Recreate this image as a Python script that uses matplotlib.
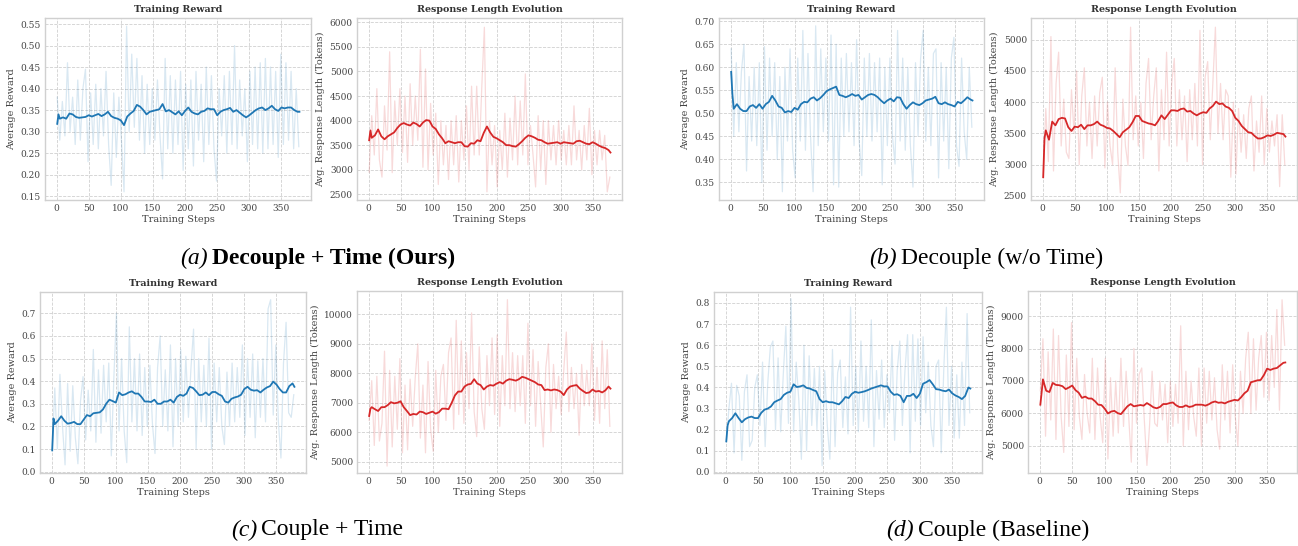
import matplotlib
matplotlib.use('Agg')
import matplotlib.pyplot as plt
import numpy as np
from matplotlib.ticker import MultipleLocator

# smoothed curves are read every 5 steps, raw curves every 4 steps (1, 5, 9, ...)
smooth_steps = [1, 3] + list(range(5, 380, 5)) + [378]

# ---------- (a) Decouple + Time (Ours) ----------
a_reward_smooth = [0.318, 0.34, 0.33, 0.333, 0.33, 0.342, 0.34, 0.334, 0.332, 0.333,
                   0.334, 0.338, 0.335, 0.338, 0.341, 0.336, 0.34, 0.346, 0.336, 0.332,
                   0.33, 0.326, 0.315, 0.335, 0.342, 0.348, 0.362, 0.358, 0.35, 0.34,
                   0.346, 0.348, 0.35, 0.352, 0.364, 0.347, 0.35, 0.345, 0.34, 0.347,
                   0.338, 0.348, 0.356, 0.346, 0.342, 0.34, 0.346, 0.348, 0.354, 0.352,
                   0.352, 0.338, 0.346, 0.35, 0.352, 0.355, 0.346, 0.35, 0.344, 0.338,
                   0.333, 0.338, 0.344, 0.35, 0.354, 0.356, 0.35, 0.354, 0.36, 0.352,
                   0.348, 0.356, 0.354, 0.356, 0.356, 0.35, 0.346, 0.346]
a_reward_raw = [0.38, 0.28, 0.37, 0.29, 0.46, 0.30, 0.38, 0.27, 0.42, 0.28,
                0.40, 0.445, 0.23, 0.39, 0.27, 0.41, 0.26, 0.40, 0.29, 0.44,
                0.27, 0.175, 0.39, 0.24, 0.38, 0.28, 0.16, 0.545, 0.30, 0.48,
                0.31, 0.47, 0.28, 0.43, 0.25, 0.41, 0.27, 0.40, 0.28, 0.42,
                0.29, 0.19, 0.47, 0.26, 0.43, 0.25, 0.42, 0.27, 0.44, 0.21,
                0.41, 0.26, 0.42, 0.22, 0.44, 0.28, 0.41, 0.23, 0.45, 0.27,
                0.43, 0.26, 0.185, 0.40, 0.29, 0.43, 0.25, 0.44, 0.27, 0.50,
                0.26, 0.42, 0.29, 0.40, 0.23, 0.44, 0.27, 0.45, 0.26, 0.46,
                0.25, 0.47, 0.26, 0.45, 0.27, 0.44, 0.24, 0.48, 0.27, 0.46,
                0.28, 0.44, 0.26, 0.40, 0.265]
a_len_smooth = [3600, 3800, 3650, 3700, 3820, 3680, 3620, 3680, 3720, 3760,
                3850, 3920, 3950, 3920, 3900, 3960, 3930, 3880, 3960, 4010,
                4000, 3880, 3830, 3720, 3640, 3540, 3580, 3560, 3540, 3560,
                3560, 3480, 3470, 3540, 3530, 3600, 3580, 3750, 3880, 3760,
                3670, 3640, 3600, 3560, 3500, 3500, 3480, 3470, 3520, 3580,
                3650, 3700, 3680, 3650, 3610, 3600, 3560, 3530, 3540, 3550,
                3560, 3530, 3560, 3550, 3540, 3530, 3580, 3590, 3560, 3530,
                3520, 3560, 3530, 3490, 3460, 3440, 3400, 3350]
a_len_raw = [2950, 4100, 3300, 4650, 3200, 2850, 4300, 3400, 5400, 2940,
             4400, 3500, 4650, 3350, 4500, 3150, 4750, 3500, 4500, 3600,
             5450, 3050, 5050, 3000, 4350, 3300, 4150, 2700, 4000, 3100,
             3900, 2800, 4000, 3100, 4100, 2750, 4000, 3200, 4300, 3000,
             4700, 3300, 4700, 3300, 4700, 5900, 2550, 4000, 3100, 3900,
             2650, 3800, 3000, 4150, 2850, 4050, 3200, 4500, 3100, 4400,
             3300, 4950, 3100, 3900, 3300, 2650, 4100, 3000, 4000, 2700,
             4000, 3200, 3900, 3100, 4000, 3200, 3800, 3100, 3900, 3100,
             4300, 3200, 3800, 3000, 3900, 3200, 4250, 2900, 3800, 3100,
             3800, 3200, 3700, 2550, 2850]

# ---------- (b) Decouple (w/o Time) ----------
b_reward_smooth = [0.59, 0.54, 0.51, 0.52, 0.51, 0.505, 0.505, 0.515, 0.518, 0.512,
                   0.52, 0.51, 0.52, 0.525, 0.538, 0.528, 0.515, 0.512, 0.502, 0.505,
                   0.503, 0.512, 0.508, 0.52, 0.525, 0.524, 0.532, 0.535, 0.528, 0.533,
                   0.54, 0.548, 0.552, 0.555, 0.558, 0.54, 0.538, 0.535, 0.538, 0.542,
                   0.538, 0.54, 0.53, 0.535, 0.54, 0.542, 0.54, 0.535, 0.528, 0.522,
                   0.528, 0.532, 0.526, 0.535, 0.534, 0.52, 0.51, 0.518, 0.524, 0.52,
                   0.518, 0.522, 0.528, 0.53, 0.532, 0.536, 0.522, 0.52, 0.524, 0.52,
                   0.518, 0.515, 0.525, 0.522, 0.528, 0.535, 0.53, 0.528]
b_reward_raw = [0.64, 0.45, 0.61, 0.46, 0.59, 0.65, 0.375, 0.58, 0.44, 0.60,
                0.43, 0.61, 0.35, 0.645, 0.42, 0.62, 0.45, 0.61, 0.40, 0.58,
                0.33, 0.60, 0.44, 0.64, 0.42, 0.36, 0.62, 0.44, 0.68, 0.42,
                0.63, 0.45, 0.33, 0.69, 0.43, 0.64, 0.46, 0.62, 0.44, 0.67,
                0.345, 0.65, 0.34, 0.62, 0.45, 0.63, 0.46, 0.61, 0.43, 0.66,
                0.44, 0.365, 0.62, 0.45, 0.63, 0.44, 0.61, 0.46, 0.62, 0.345,
                0.60, 0.43, 0.62, 0.45, 0.39, 0.68, 0.44, 0.62, 0.42, 0.60,
                0.43, 0.34, 0.61, 0.45, 0.62, 0.68, 0.44, 0.60, 0.43, 0.63,
                0.64, 0.36, 0.61, 0.44, 0.60, 0.38, 0.62, 0.665, 0.43, 0.385,
                0.62, 0.46, 0.40, 0.60, 0.47]
b_len_smooth = [2800, 3420, 3550, 3400, 3690, 3630, 3730, 3750, 3740, 3600,
                3540, 3610, 3600, 3640, 3570, 3630, 3630, 3650, 3690, 3640,
                3620, 3590, 3580, 3540, 3490, 3440, 3520, 3560, 3600, 3680,
                3780, 3780, 3700, 3680, 3660, 3650, 3630, 3700, 3790, 3730,
                3800, 3870, 3870, 3860, 3890, 3900, 3850, 3860, 3820, 3790,
                3820, 3840, 3830, 3900, 3940, 4010, 3970, 3980, 3930, 3910,
                3860, 3750, 3700, 3620, 3570, 3520, 3510, 3460, 3420, 3420,
                3440, 3470, 3460, 3480, 3510, 3500, 3490, 3450]
b_len_raw = [2800, 3900, 3050, 5050, 2900, 4300, 4800, 3300, 4050, 3200,
             3100, 4200, 3500, 4500, 3000, 4100, 4550, 3300, 4000, 3100,
             4100, 3300, 4150, 4400, 2950, 4000, 3300, 3000, 4550, 3200,
             2550, 4050, 3300, 2990, 5200, 3400, 4100, 3300, 4000, 3100,
             4300, 4700, 3400, 4100, 4550, 2900, 4200, 3400, 4800, 3300,
             4300, 4700, 3300, 4200, 3400, 4100, 3050, 4200, 3400, 4300,
             3300, 5150, 3000, 4400, 4650, 3400, 4300, 5200, 3500, 4300,
             3400, 4200, 4100, 2800, 4000, 2850, 3900, 3200, 3800, 3100,
             3900, 4100, 2900, 3700, 3200, 4100, 3000, 3900, 3200, 3700,
             3300, 3800, 2650, 3800, 3000]

# ---------- (c) Couple + Time ----------
c_reward_smooth = [0.094, 0.235, 0.21, 0.225, 0.245, 0.225, 0.212, 0.215, 0.22, 0.21,
                   0.21, 0.23, 0.25, 0.245, 0.258, 0.26, 0.262, 0.275, 0.30, 0.318,
                   0.312, 0.305, 0.35, 0.338, 0.342, 0.35, 0.355, 0.345, 0.345, 0.33,
                   0.31, 0.31, 0.308, 0.318, 0.30, 0.30, 0.31, 0.31, 0.318, 0.305,
                   0.33, 0.34, 0.335, 0.345, 0.375, 0.37, 0.355, 0.338, 0.34, 0.35,
                   0.338, 0.352, 0.352, 0.342, 0.335, 0.31, 0.305, 0.322, 0.328, 0.332,
                   0.34, 0.365, 0.375, 0.362, 0.358, 0.36, 0.35, 0.362, 0.372, 0.378,
                   0.398, 0.385, 0.365, 0.35, 0.35, 0.378, 0.39, 0.375]
c_reward_raw = [0.10, 0.37, 0.10, 0.43, 0.20, 0.03, 0.39, 0.09, 0.38, 0.15,
                0.035, 0.31, 0.42, 0.14, 0.36, 0.18, 0.54, 0.13, 0.45, 0.17,
                0.47, 0.22, 0.48, 0.07, 0.42, 0.70, 0.18, 0.50, 0.18, 0.04,
                0.64, 0.22, 0.50, 0.18, 0.52, 0.16, 0.46, 0.20, 0.47, 0.21,
                0.08, 0.46, 0.60, 0.20, 0.45, 0.18, 0.56, 0.11, 0.50, 0.20,
                0.54, 0.22, 0.51, 0.24, 0.46, 0.63, 0.10, 0.50, 0.22, 0.47,
                0.20, 0.59, 0.10, 0.48, 0.22, 0.46, 0.20, 0.12, 0.44, 0.20,
                0.48, 0.22, 0.46, 0.24, 0.56, 0.16, 0.50, 0.24, 0.52, 0.15,
                0.49, 0.24, 0.50, 0.22, 0.72, 0.76, 0.25, 0.56, 0.22, 0.06,
                0.48, 0.66, 0.26, 0.24, 0.34]
c_len_smooth = [6550, 6800, 6850, 6780, 6720, 6850, 6850, 6920, 7020, 6980,
                7000, 7050, 6850, 6720, 6580, 6620, 6600, 6700, 6680, 6620,
                6660, 6700, 6630, 6680, 6800, 6800, 6780, 7000, 7250, 7380,
                7380, 7550, 7620, 7640, 7800, 7650, 7600, 7450, 7550, 7600,
                7580, 7650, 7700, 7650, 7750, 7800, 7780, 7750, 7800, 7880,
                7850, 7800, 7750, 7700, 7620, 7600, 7430, 7450, 7420, 7450,
                7430, 7380, 7260, 7450, 7550, 7580, 7600, 7480, 7400, 7330,
                7350, 7450, 7380, 7400, 7350, 7420, 7550, 7480]
c_len_raw = [6400, 7750, 5550, 7900, 5700, 6300, 8750, 4850, 8100, 5500,
             7900, 6100, 8500, 5300, 7600, 5400, 7800, 6200, 7850, 9000,
             5800, 7600, 5300, 8400, 6100, 5350, 8100, 6000, 7900, 8300,
             6400, 8700, 9200, 6100, 9800, 6600, 9100, 6300, 8700, 6800,
             10050, 6700, 5850, 8900, 6800, 6100, 8600, 6900, 9200, 6600,
             9300, 6200, 8600, 6900, 10500, 6800, 8700, 6700, 8600, 6900,
             8600, 6300, 9700, 6900, 8800, 6200, 8400, 6900, 5500, 8200,
             9000, 6000, 8300, 6800, 7900, 6600, 8100, 9400, 6700, 8200,
             6800, 8000, 5900, 8300, 6900, 8100, 6900, 9000, 6400, 8200,
             6300, 9100, 6800, 8800, 6200]

# ---------- (d) Couple (Baseline) ----------
d_reward_smooth = [0.145, 0.22, 0.24, 0.255, 0.278, 0.255, 0.235, 0.25, 0.258, 0.262,
                   0.255, 0.255, 0.28, 0.295, 0.30, 0.31, 0.33, 0.338, 0.345, 0.365,
                   0.375, 0.38, 0.415, 0.402, 0.405, 0.41, 0.398, 0.395, 0.388, 0.382,
                   0.345, 0.33, 0.335, 0.33, 0.33, 0.325, 0.32, 0.335, 0.355, 0.35,
                   0.37, 0.38, 0.375, 0.378, 0.382, 0.388, 0.395, 0.40, 0.405, 0.41,
                   0.405, 0.405, 0.38, 0.365, 0.368, 0.36, 0.33, 0.36, 0.36, 0.37,
                   0.35, 0.37, 0.418, 0.425, 0.435, 0.415, 0.392, 0.39, 0.385, 0.382,
                   0.39, 0.372, 0.362, 0.355, 0.345, 0.36, 0.40, 0.395]
d_reward_raw = [0.14, 0.30, 0.42, 0.09, 0.41, 0.36, 0.055, 0.38, 0.46, 0.12,
                0.15, 0.40, 0.46, 0.22, 0.52, 0.12, 0.42, 0.59, 0.62, 0.20,
                0.54, 0.19, 0.46, 0.69, 0.23, 0.82, 0.19, 0.52, 0.34, 0.06,
                0.60, 0.10, 0.55, 0.22, 0.49, 0.20, 0.50, 0.03, 0.48, 0.22,
                0.06, 0.58, 0.12, 0.47, 0.53, 0.21, 0.45, 0.18, 0.78, 0.22,
                0.50, 0.19, 0.62, 0.24, 0.50, 0.21, 0.72, 0.12, 0.48, 0.25,
                0.53, 0.21, 0.46, 0.28, 0.60, 0.15, 0.48, 0.62, 0.22, 0.48,
                0.65, 0.09, 0.65, 0.24, 0.63, 0.22, 0.64, 0.28, 0.52, 0.22,
                0.12, 0.50, 0.53, 0.09, 0.49, 0.78, 0.22, 0.50, 0.16, 0.46,
                0.16, 0.52, 0.22, 0.75, 0.28]
d_len_smooth = [6270, 6650, 7050, 6700, 6660, 6940, 6880, 6870, 6840, 6750,
                6800, 6860, 6720, 6640, 6480, 6520, 6460, 6460, 6380, 6270,
                6260, 6150, 6000, 6060, 6080, 6010, 5980, 6100, 6220, 6290,
                6220, 6240, 6260, 6240, 6320, 6260, 6190, 6160, 6200, 6290,
                6290, 6320, 6340, 6250, 6200, 6200, 6250, 6200, 6220, 6270,
                6270, 6270, 6240, 6280, 6340, 6370, 6330, 6340, 6310, 6360,
                6390, 6420, 6400, 6500, 6620, 6700, 6960, 6990, 7020, 7030,
                7180, 7380, 7340, 7380, 7400, 7480, 7560, 7570]
d_len_raw = [6700, 8300, 5300, 7900, 5800, 8600, 5200, 8400, 5900, 4800,
             7800, 5600, 8800, 5500, 7700, 5900, 5200, 7200, 6000, 5400,
             7700, 5200, 7400, 5900, 5100, 7700, 4600, 7100, 5300, 7000,
             5400, 7700, 5600, 7300, 5900, 4500, 8000, 5700, 7200, 7400,
             5800, 4400, 5600, 7300, 5700, 5600, 7000, 5800, 6900, 5100,
             7000, 5600, 6900, 5700, 8700, 5000, 7300, 5500, 7000, 5900,
             5300, 7400, 5000, 7400, 5700, 7300, 5800, 7100, 5500, 4900,
             7500, 5800, 7300, 5400, 7500, 5900, 5000, 7300, 6000, 7700,
             8500, 6000, 8300, 6100, 7700, 8400, 6500, 8500, 6400, 8400,
             6800, 9200, 6100, 9500, 8100]

BLUE = '#1f77b4'
RED = '#d62728'
W, H = 1298, 546

plt.rcParams['font.family'] = ['DejaVu Serif']
fig = plt.figure(figsize=(W / 100, H / 100), dpi=100)


def px_axes(left, top, right, bottom):
    return fig.add_axes([left / W, 1 - bottom / H, (right - left) / W, (bottom - top) / H])


def panel(box, raw, smooth, color, title, ylabel, ylim, ystep):
    ax = px_axes(*box)
    raw_x = np.arange(len(raw)) * 4 + 1
    ax.plot(raw_x, raw, color=color, alpha=0.17, lw=0.9)
    ax.plot(smooth_steps, smooth, color=color, lw=1.3)
    ax.set_xlim(-18, 396)
    ax.set_ylim(*ylim)
    ax.xaxis.set_major_locator(MultipleLocator(50))
    ax.yaxis.set_major_locator(MultipleLocator(ystep))
    ax.grid(True, ls='--', color='#d0d0d0', lw=0.6)
    ax.set_axisbelow(True)
    for s in ax.spines.values():
        s.set_color('#d0d0d0')
        s.set_linewidth(1.0)
    ax.tick_params(length=0, pad=3, labelsize=6.5, colors='#444444')
    ax.set_title(title, fontsize=6.8, fontweight='bold', color='#333333', pad=4)
    ax.set_xlabel('Training Steps', fontsize=7, color='#444444', labelpad=1)
    ax.set_ylabel(ylabel, fontsize=7, color='#444444', labelpad=3)
    return ax


RW = 'Average Reward'
LN = 'Avg. Response Length (Tokens)'
TR = 'Training Reward'
TL = 'Response Length Evolution'

panel((45, 18, 311, 200), a_reward_raw, a_reward_smooth, BLUE, TR, RW, (0.141, 0.564), 0.05)
panel((357, 18, 622, 200), a_len_raw, a_len_smooth, RED, TL, LN, (2384, 6088), 500)
panel((719, 18, 984, 200), b_reward_raw, b_reward_smooth, BLUE, TR, RW, (0.312, 0.707), 0.05)
panel((1031, 18, 1297, 200), b_len_raw, b_len_smooth, RED, TL, LN, (2436, 5347), 500)
panel((40, 292, 306, 473), c_reward_raw, c_reward_smooth, BLUE, TR, RW, (-0.006, 0.794), 0.1)
panel((357, 291, 622, 473), c_len_raw, c_len_smooth, RED, TL, LN, (4615, 10794), 1000)
panel((714, 292, 982, 473), d_reward_raw, d_reward_smooth, BLUE, TR, RW, (-0.005, 0.852), 0.1)
panel((1028, 291, 1297, 473), d_len_raw, d_len_smooth, RED, TL, LN, (4167, 9771), 1000)

# sub-captions
CAP = 'Liberation Serif'
captions = [(208, 258, '(a)', 'Decouple + Time (Ours)', 'bold'),
            (897, 258, '(b)', 'Decouple (w/o Time)', 'normal'),
            (257, 530, '(c)', 'Couple + Time', 'normal'),
            (914, 530, '(d)', 'Couple (Baseline)', 'normal')]
for cx, cy, tag, label, weight in captions:
    fig.text(cx / W, 1 - cy / H, tag, ha='right', va='center', family=CAP,
             style='italic', fontsize=17)
    fig.text((cx + 4) / W, 1 - cy / H, label, ha='left', va='center', family=CAP,
             fontweight=weight, fontsize=17)

fig.savefig('out.png', dpi=100)
